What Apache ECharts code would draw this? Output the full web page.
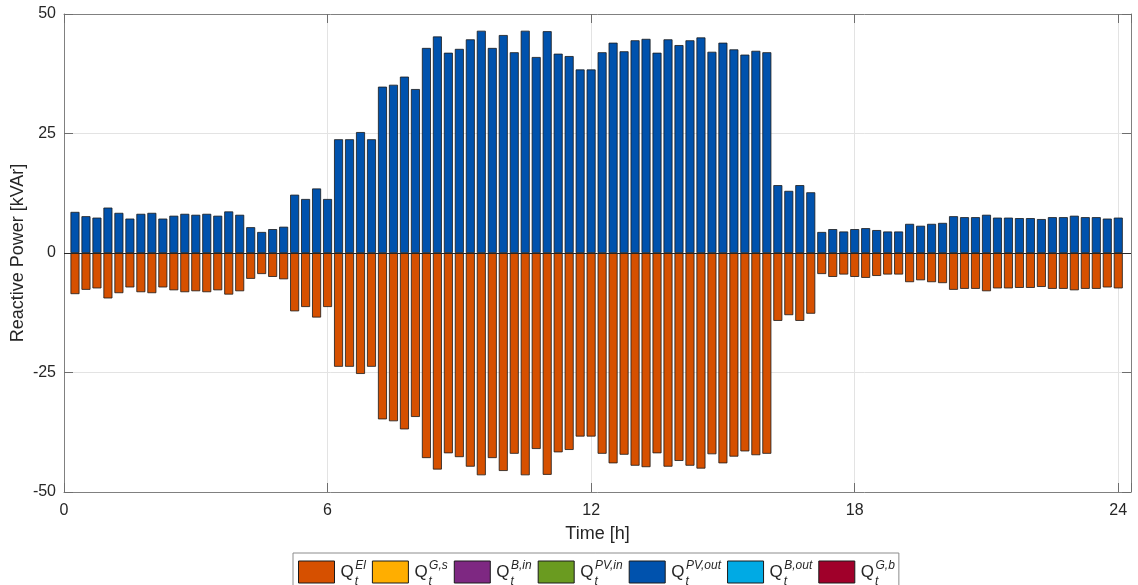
<!DOCTYPE html>
<html>
<head>
<meta charset="utf-8">
<script src="https://cdn.jsdelivr.net/npm/echarts@6/dist/echarts.min.js"></script>
<style>
html,body{margin:0;padding:0;background:#fff;}
#chart{width:1138px;height:585px;}
</style>
</head>
<body>
<div id="chart"></div>
<script>
// time stamps [h] (15-minute steps)
var times = [0.25,0.5,0.75,1,1.25,1.5,1.75,2,2.25,2.5,2.75,3,3.25,3.5,3.75,4,
  4.25,4.5,4.75,5,5.25,5.5,5.75,6,6.25,6.5,6.75,7,7.25,7.5,7.75,8,
  8.25,8.5,8.75,9,9.25,9.5,9.75,10,10.25,10.5,10.75,11,11.25,11.5,11.75,12,
  12.25,12.5,12.75,13,13.25,13.5,13.75,14,14.25,14.5,14.75,15,15.25,15.5,15.75,16,
  16.25,16.5,16.75,17,17.25,17.5,17.75,18,18.25,18.5,18.75,19,19.25,19.5,19.75,20,
  20.25,20.5,20.75,21,21.25,21.5,21.75,22,22.25,22.5,22.75,23,23.25,23.5,23.75,24];

// Q_t^{PV,out} [kVAr]
var qPVout = [8.6,7.7,7.4,9.5,8.4,7.2,8.2,8.4,7.2,7.8,8.2,8.0,8.2,7.8,8.7,8.0,
  5.4,4.4,5.0,5.5,12.2,11.3,13.5,11.3,23.8,23.8,25.3,23.8,34.8,35.2,36.9,34.3,
  42.9,45.3,41.9,42.7,44.7,46.5,42.9,45.6,42.0,46.5,41.0,46.4,41.7,41.2,38.4,38.4,
  42.0,44.0,42.2,44.5,44.8,41.9,44.7,43.5,44.5,45.1,42.1,44.0,42.6,41.5,42.3,42.0,
  14.2,13.0,14.2,12.7,4.4,5.0,4.5,5.0,5.2,4.8,4.5,4.5,6.1,5.7,6.1,6.3,
  7.7,7.5,7.5,8.0,7.4,7.4,7.3,7.3,7.1,7.5,7.5,7.8,7.5,7.5,7.2,7.4];

// Q_t^{El} [kVAr]
var qEl = [-8.6,-7.7,-7.4,-9.5,-8.4,-7.2,-8.2,-8.4,-7.2,-7.8,-8.2,-8.0,-8.2,-7.8,-8.7,-8.0,
  -5.4,-4.4,-5.0,-5.5,-12.2,-11.3,-13.5,-11.3,-23.8,-23.8,-25.3,-23.8,-34.8,-35.2,-36.9,-34.3,
  -42.9,-45.3,-41.9,-42.7,-44.7,-46.5,-42.9,-45.6,-42.0,-46.5,-41.0,-46.4,-41.7,-41.2,-38.4,-38.4,
  -42.0,-44.0,-42.2,-44.5,-44.8,-41.9,-44.7,-43.5,-44.5,-45.1,-42.1,-44.0,-42.6,-41.5,-42.3,-42.0,
  -14.2,-13.0,-14.2,-12.7,-4.4,-5.0,-4.5,-5.0,-5.2,-4.8,-4.5,-4.5,-6.1,-5.7,-6.1,-6.3,
  -7.7,-7.5,-7.5,-8.0,-7.4,-7.4,-7.3,-7.3,-7.1,-7.5,-7.5,-7.8,-7.5,-7.5,-7.2,-7.4];

// legend entries (superscripts) and colours
var seriesSup = ['El','G,s','B,in','PV,in','PV,out','B,out','G,b'];
var seriesColors = ['#D65000','#FFAE00','#7E2882','#6A9B20','#0052AD','#00AAE4','#A0002A'];

var xTicks = [0, 6, 12, 18, 24];
var yTicks = [-50, -25, 0, 25, 50];

function pairs(vals) {
  var out = [];
  for (var i = 0; i < vals.length; i++) out.push([times[i], vals[i]]);
  return out;
}

var dataBySeries = {
  'El': pairs(qEl),
  'PV,out': pairs(qPVout)
};

var FONT = 'Liberation Sans';
var TXT = '#262626';
var AX = '#808080';

var series = seriesSup.map(function (sup, i) {
  var s = {
    name: 'Q_t^' + sup,
    type: 'bar',
    stack: 'q',
    barWidth: 9,
    xAxisIndex: 0,
    yAxisIndex: 0,
    itemStyle: { color: seriesColors[i], borderColor: '#1a1a1a', borderWidth: 0.8 },
    emphasis: { disabled: true },
    data: dataBySeries[sup] || []
  };
  if (sup === 'PV,out') {
    s.markLine = {
      silent: true,
      symbol: 'none',
      label: { show: false },
      lineStyle: { color: '#262626', width: 1, type: 'solid' },
      data: [{ yAxis: 0 }]
    };
  }
  return s;
});

var chart = echarts.init(document.getElementById('chart'), null, { renderer: 'canvas' });

var baseX = {
  type: 'value', min: 0, max: 24.29, interval: 6,
  axisLine: { show: true, onZero: false, lineStyle: { color: AX, width: 1 } },
  axisTick: { show: true, inside: true, length: 9, lineStyle: { color: '#6e6e6e' } },
  splitLine: { show: false }
};
var baseY = {
  type: 'value', min: -50, max: 50, interval: 25,
  axisLine: { show: true, onZero: false, lineStyle: { color: AX, width: 1 } },
  axisTick: { show: true, inside: true, length: 9, lineStyle: { color: '#6e6e6e' } },
  splitLine: { show: false }
};

chart.setOption({
  animation: false,
  backgroundColor: '#ffffff',
  textStyle: { fontFamily: FONT },
  grid: { left: 64, right: 7, top: 14, bottom: 93, containLabel: false, outerBoundsMode: 'none' },
  xAxis: [
    Object.assign({}, baseX, {
      position: 'bottom',
      name: 'Time [h]', nameLocation: 'middle', nameGap: 33,
      nameTextStyle: { fontFamily: FONT, fontSize: 18, color: TXT },
      axisLabel: {
        show: true, margin: 11, fontFamily: FONT, fontSize: 16, color: TXT,
        formatter: function (v) { return xTicks.indexOf(v) >= 0 ? String(v) : ''; }
      },
      splitLine: { show: true, lineStyle: { color: '#e3e3e3', width: 1 } }
    }),
    Object.assign({}, baseX, { position: 'top', axisLabel: { show: false } })
  ],
  yAxis: [
    Object.assign({}, baseY, {
      position: 'left',
      name: 'Reactive Power [kVAr]', nameLocation: 'middle', nameGap: 37,
      nameMoveOverlap: false,
      nameTextStyle: { fontFamily: FONT, fontSize: 18, color: TXT },
      axisLabel: {
        show: true, margin: 8, fontFamily: FONT, fontSize: 16, color: TXT,
        formatter: function (v) { return yTicks.indexOf(v) >= 0 ? String(v) : ''; }
      },
      splitLine: { show: true, lineStyle: { color: '#e3e3e3', width: 1 } }
    }),
    Object.assign({}, baseY, { position: 'right', axisLabel: { show: false } })
  ],
  legend: {
    show: true,
    orient: 'horizontal',
    left: 293, top: 553,
    padding: [6, 4, 6, 5],
    itemWidth: 36, itemHeight: 22, itemGap: 6,
    icon: 'rect',
    borderColor: '#8c8c8c', borderWidth: 1,
    backgroundColor: '#ffffff',
    selectedMode: false,
    itemStyle: { borderColor: '#1a1a1a', borderWidth: 1 },
    formatter: function (name) {
      var sup = name.split('^')[1];
      return '{q|Q}{t|t}{s|' + sup + '}';
    },
    textStyle: {
      fontFamily: FONT, color: TXT,
      rich: {
        q: { fontFamily: FONT, fontSize: 17, color: TXT, lineHeight: 26, verticalAlign: 'middle', padding: [0, 1, 0, 1] },
        t: { fontFamily: FONT, fontSize: 12, fontStyle: 'italic', color: TXT, lineHeight: 26, verticalAlign: 'bottom', width: 0.5, padding: [0, 0, -3, 0] },
        s: { fontFamily: FONT, fontSize: 12, fontStyle: 'italic', color: TXT, lineHeight: 26, verticalAlign: 'top', padding: [1, 0, 0, 0] }
      }
    },
    data: seriesSup.map(function (s) { return 'Q_t^' + s; })
  },
  series: series
});
</script>
</body>
</html>
